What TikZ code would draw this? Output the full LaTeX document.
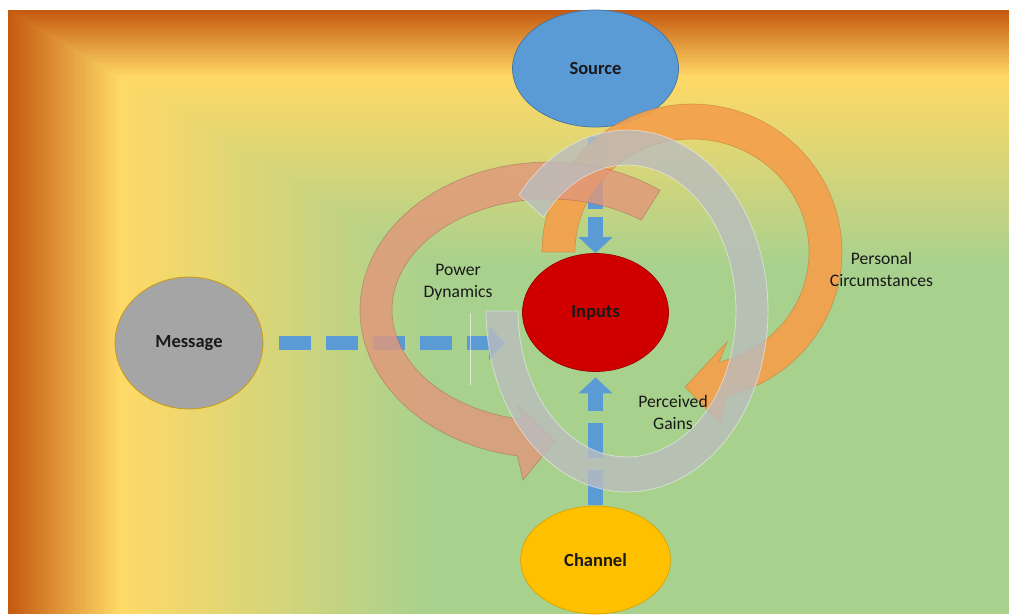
\documentclass[tikz,border=0pt]{standalone}
\usepackage{fontspec}
\setmainfont{Carlito}
\usetikzlibrary{shapes.geometric,arrows.meta}
\definecolor{bgorange}{RGB}{197,90,17}
\definecolor{bgyellow}{RGB}{255,217,102}
\definecolor{bggreen}{RGB}{169,209,142}
\definecolor{srcblue}{RGB}{91,155,213}
\definecolor{inred}{RGB}{208,0,0}
\definecolor{msggray}{RGB}{165,165,165}
\definecolor{chgold}{RGB}{255,192,0}
\definecolor{arrblue}{RGB}{91,155,213}
\definecolor{arcorange}{RGB}{244,160,76}
\definecolor{arctan}{RGB}{225,152,122}
\definecolor{arcgray}{RGB}{186,189,190}
\definecolor{txt}{RGB}{25,25,25}
\begin{document}
\begin{tikzpicture}[x=1pt,y=-1pt,
  bubble/.style={ellipse, inner sep=0pt, line width=0.7pt,
    font=\fontsize{18.5}{22}\selectfont\bfseries, text=txt},
  lbl/.style={align=center, font=\fontsize{17.6}{22}\selectfont, text=txt},
  flow/.style={draw=arrblue, line width=14.5pt,
    -{Triangle[length=16pt,width=34pt,line width=0pt]}},
  orangearc/.style={fill=arcorange, fill opacity=0.92, draw=arcorange!75!black, draw opacity=0.5, line width=0.7pt},
  tanarc/.style={fill=arctan, fill opacity=0.82, draw=arctan!70!black, draw opacity=0.5, line width=0.7pt},
  grayarc/.style={fill=arcgray, fill opacity=0.8, draw=white, draw opacity=0.45, line width=0.8pt}
]
\path[use as bounding box] (0,0) rectangle (1009,614);
\clip (0,0) rectangle (1009,614);
\fill[white] (0,0) rectangle (1009,614);
% background: rectangular gradient from the top-left corner
\foreach \i in {0,...,150} {
  \pgfmathsetmacro\tv{\i*0.003}
  \pgfmathtruncatemacro\pa{min(100,\tv/0.11*100)}
  \pgfmathtruncatemacro\pb{max(0,min(100,(\tv-0.11)/0.31*100))}
  \fill[bggreen!\pb!bgyellow!\pa!bgorange] ({8+\tv*1001},{10+\tv*604}) rectangle (1009,614);
}
% ellipses
\node[bubble, fill=srcblue, draw=srcblue!75!black, minimum width=166pt, minimum height=117pt] (source) at (595.5,68.5) {Source};
\node[bubble, fill=inred, draw=inred!75!black, minimum width=146pt, minimum height=118pt] (inputs) at (595.5,312.5) {Inputs};
\node[bubble, fill=msggray, draw=chgold!80!black, minimum width=148pt, minimum height=132pt] (message) at (189,343) {Message};
\node[bubble, fill=chgold, draw=chgold!85!black, minimum width=150pt, minimum height=108pt] (channel) at (595.5,560) {Channel};
% dashed blue arrows
\coordinate (msgtip) at (505,343);
\draw[flow, dash pattern=on 31.5pt off 15.5pt] ([xshift=16pt]message.east) -- (msgtip);
\draw[flow, dash pattern=on 72pt off 8pt] ([yshift=-10pt]source.south) -- (inputs.north);
\draw[flow, dash pattern=on 35pt off 12pt] ([yshift=1pt]channel.north) -- ([yshift=-5.5pt]inputs.south);
\draw[white, opacity=0.6, line width=0.8pt] (470,313) -- (470,385);
% Personal Circumstances arc (orange)
\path[orangearc]
  plot[domain=180:436.6, samples=90] ({692+117*cos(\x)},{252+113*sin(\x)})
  -- (727,342) -- (685,387) -- (720,423)
  -- plot[domain=436.6:180, samples=90] ({692+150*cos(\x)},{252+148*sin(\x)}) -- cycle;
% Power Dynamics arc (tan)
\path[tanarc]
  plot[domain=306:99.6, samples=90] ({549+189*cos(\x)},{310+148*sin(\x)})
  -- (523,480) -- (555,441) -- (518,405)
  -- plot[domain=99.6:306, samples=90] ({549+157*cos(\x)},{310+111*sin(\x)}) -- cycle;
% Perceived Gains arc (gray)
\path[grayarc]
  plot[domain=180:-140, samples=110] ({627+141*cos(\x)},{311+181*sin(\x)})
  -- plot[domain=-140:180, samples=110] ({627+109*cos(\x)},{311+146*sin(\x)}) -- cycle;
% labels
\node[lbl] (power) at (458,282.5) {Power\\Dynamics};
\node[lbl] (personal) at (881.5,269) {Personal\\Circumstances};
\node[lbl] (perceived) at (673,412) {Perceived\\Gains};
\end{tikzpicture}
\end{document}
